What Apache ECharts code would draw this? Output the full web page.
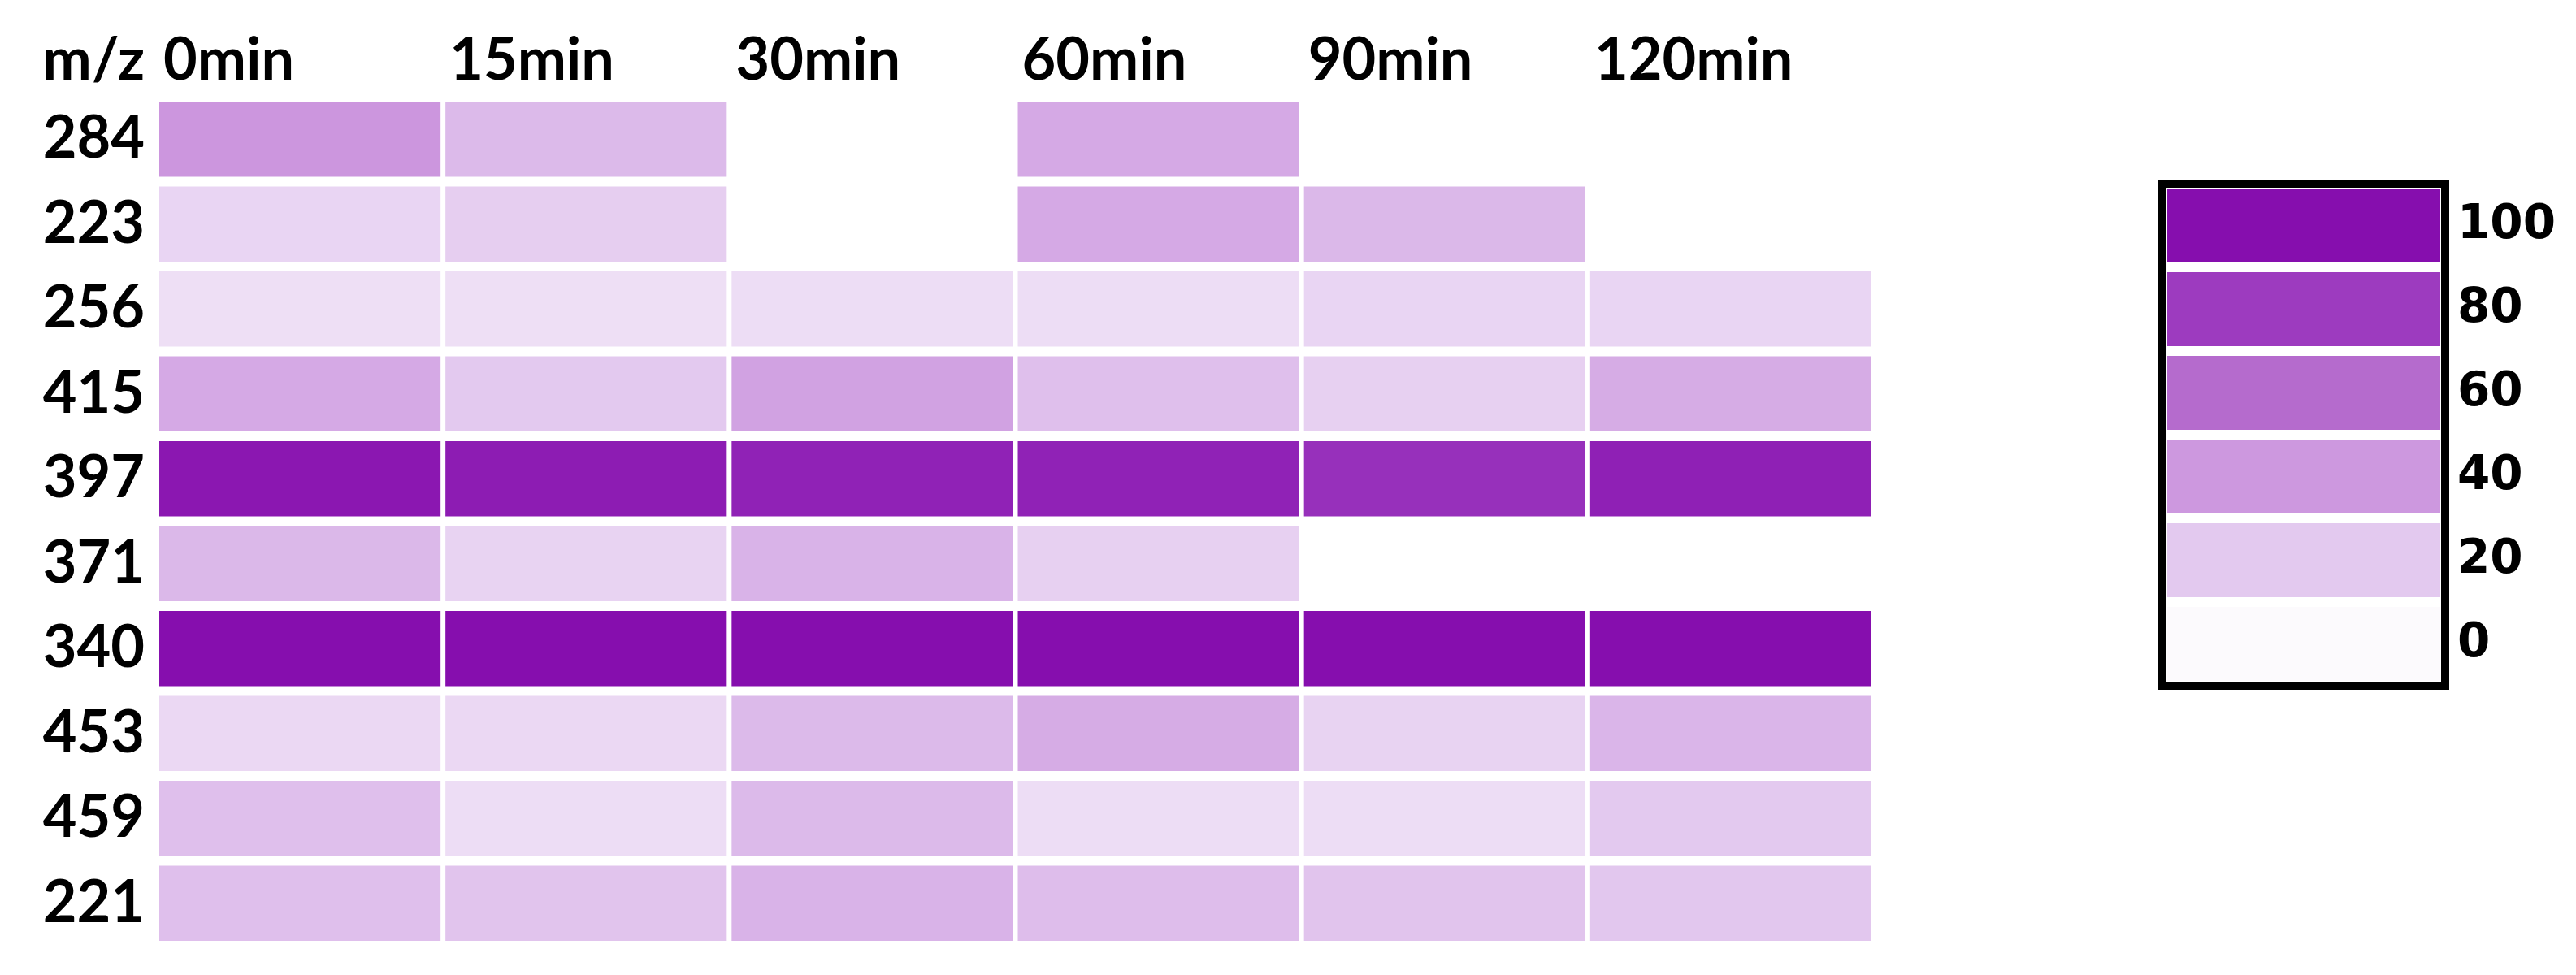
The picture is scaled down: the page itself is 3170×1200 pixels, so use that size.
<!DOCTYPE html>
<html>
<head>
<meta charset="utf-8">
<script src="https://cdn.jsdelivr.net/npm/echarts@6/dist/echarts.min.js"></script>
<style>
    html, body { margin: 0; padding: 0; background: #fff; }
    #heatmap { width: 3170px; height: 1200px; }
</style>
</head>
<body>
<div id="heatmap"></div>
<script>
var times = ['0min', '15min', '30min', '60min', '90min', '120min'];
var mz = ['284', '223', '256', '415', '397', '371', '340', '453', '459', '221'];

// relative intensity (%) for each time point, in mz order; null = not detected
var t0   = [41, 15, 11, 33, 96, 27, 100, 14, 24, 24];
var t15  = [26, 18, 11, 20, 94, 16, 100, 14, 12, 22];
var t30  = [null, null, 12, 36, 91, 29, 100, 26, 26, 29];
var t60  = [33, 33, 12, 24, 91, 17, 100, 32, 12, 25];
var t90  = [null, 27, 15, 17, 85, null, 100, 16, 12, 22];
var t120 = [null, null, 15, 32, 92, null, 100, 28, 20, 21];

var legendTicks = [0, 20, 40, 60, 80, 100];
var scaleColors = ['#fcfafd', '#e3c9ef', '#cd98df', '#b56bcd', '#9d3bbf', '#860eae'];

var columns = [t0, t15, t30, t60, t90, t120];
var cells = [];
columns.forEach(function (col, i) {
    col.forEach(function (v, j) {
        if (v !== null) cells.push([i, j, v]);
    });
});
var legendCells = legendTicks.map(function (v, i) { return [0, i, v]; });

function cellRenderer(gapX, gapY) {
    return function (params, api) {
        var c = api.coord([api.value(0), api.value(1)]);
        var s = api.size([1, 1]);
        var w = s[0] - gapX, h = s[1] - gapY;
        return {
            type: 'rect',
            shape: { x: c[0] - w / 2, y: c[1] - h / 2, width: w, height: h },
            style: { fill: api.visual('color') }
        };
    };
}

var chart = echarts.init(document.getElementById('heatmap'));

var option = {
    backgroundColor: '#fff',
    animation: false,
    grid: [
        { left: 193, top: 119, width: 2113, height: 1045 },
        { left: 2661, top: 226, width: 348, height: 618, show: true,
          borderColor: '#000', borderWidth: 10, backgroundColor: '#fff' }
    ],
    xAxis: [
        {
            type: 'category', gridIndex: 0, position: 'top', data: times,
            axisLine: { show: false }, axisTick: { show: false },
            axisLabel: {
                margin: 44, verticalAlign: 'middle',
                formatter: function (v) { return '{t|' + v + '}'; },
                rich: { t: { width: 336, align: 'left', fontFamily: 'Lato', fontWeight: 'bold', fontSize: 72, color: '#000' } }
            }
        },
        { type: 'category', gridIndex: 1, data: ['scale'], show: false }
    ],
    yAxis: [
        {
            type: 'category', gridIndex: 0, data: mz, inverse: true,
            axisLine: { show: false }, axisTick: { show: false },
            axisLabel: { margin: 15, fontFamily: 'Lato', fontWeight: 'bold', fontSize: 72, color: '#000' },
            name: 'm/z', nameLocation: 'start', nameGap: 44,
            nameTextStyle: { align: 'right', verticalAlign: 'middle', padding: [0, 15, 0, 0],
                             fontFamily: 'Lato', fontWeight: 'bold', fontSize: 72, color: '#000' }
        },
        {
            type: 'category', gridIndex: 1, position: 'right', data: legendTicks,
            axisLine: { show: false }, axisTick: { show: false },
            axisLabel: { margin: 15, fontFamily: 'DejaVu Sans', fontWeight: 'bold', fontSize: 58, color: '#000' }
        }
    ],
    visualMap: {
        type: 'continuous', show: false, min: 0, max: 100, dimension: 2,
        seriesIndex: [0, 1],
        inRange: { color: scaleColors }
    },
    series: [
        {
            type: 'custom', xAxisIndex: 0, yAxisIndex: 0,
            renderItem: cellRenderer(6, 12),
            encode: { x: 0, y: 1 },
            data: cells
        },
        {
            type: 'custom', xAxisIndex: 1, yAxisIndex: 1,
            renderItem: cellRenderer(12, 12),
            encode: { x: 0, y: 1 },
            data: legendCells
        }
    ]
};

chart.setOption(option);
</script>
</body>
</html>
